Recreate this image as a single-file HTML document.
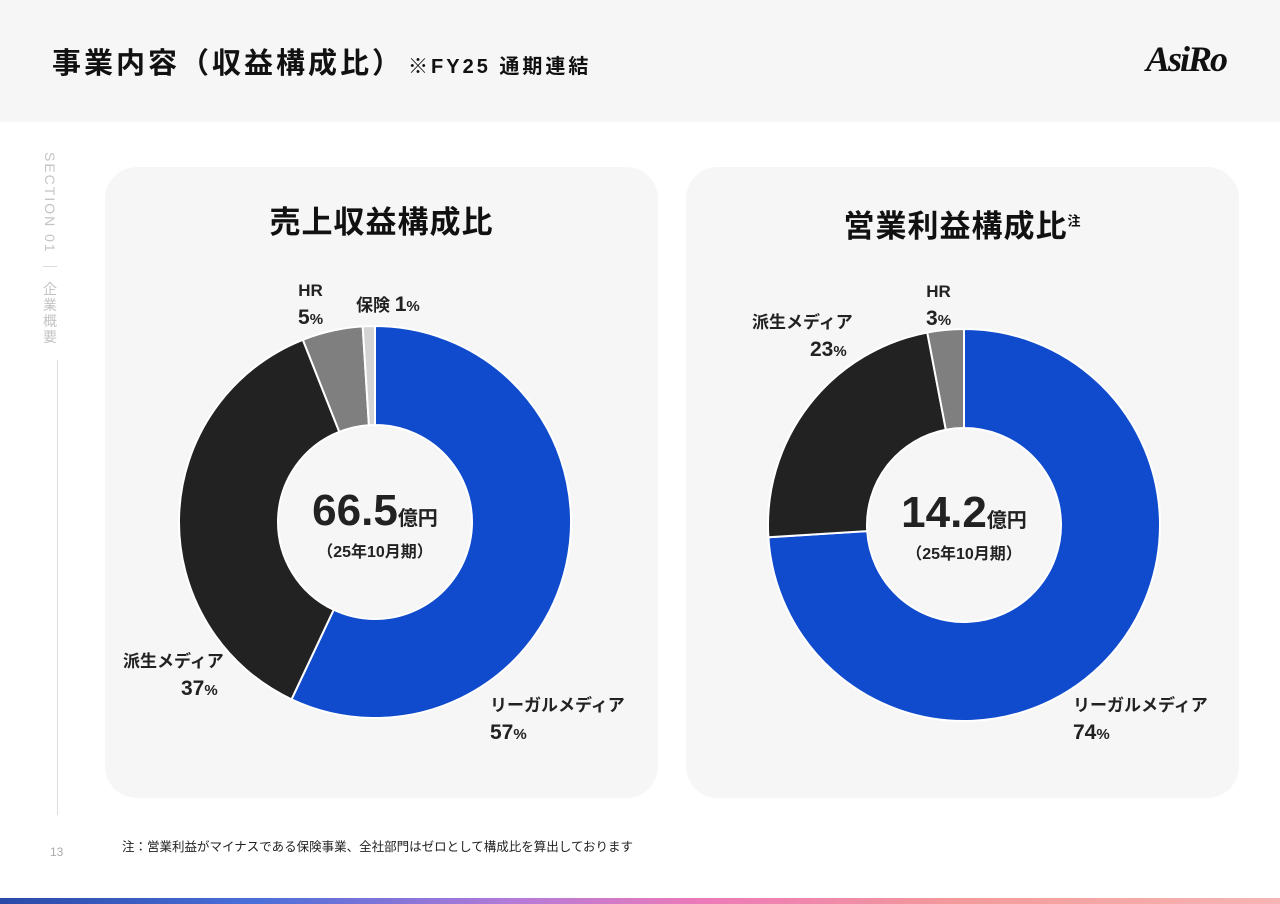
<!DOCTYPE html>
<html><head><meta charset="utf-8">
<style>
body{margin:0;width:1280px;height:904px;background:#fff;position:relative;overflow:hidden;font-family:"Liberation Sans","Noto Sans CJK JP",sans-serif;color:#222}
.hdr{position:absolute;left:0;top:0;width:1280px;height:122px;background:#f6f6f6}
.title{position:absolute;left:52px;top:40px;font-size:29px;font-weight:bold;color:#111;letter-spacing:3px;white-space:nowrap}
.title small{font-size:20px;letter-spacing:3px;margin-left:4px}
.logo{position:absolute;left:1146px;top:38px;font-size:36px;font-weight:bold;font-style:italic;color:#111;font-family:"Liberation Serif",serif;letter-spacing:-2px}
.side{position:absolute;left:40px;top:152px;writing-mode:vertical-rl;font-size:14px;color:#c4c4c4;letter-spacing:2px}
.sideline{position:absolute;left:57px;top:360px;width:1px;height:455px;background:#ddd}
.pg{position:absolute;left:50px;top:845px;font-size:12px;color:#aaa}
.card{position:absolute;top:167px;width:553px;height:631px;background:#f6f6f6;border-radius:32px}
.ct{position:absolute;width:553px;text-align:center;top:30px;font-size:31px;font-weight:bold;color:#111;letter-spacing:1px}
.ct sup{font-size:13px}
.lbl{position:absolute;font-weight:bold;font-size:17px;color:#222;white-space:nowrap;line-height:1.4}
.lbl b{font-size:21px}
.lbl i{font-style:normal;font-size:15px}
.c{text-align:center}
.big{position:absolute;width:300px;text-align:center;font-weight:bold}
.note{position:absolute;left:122px;top:836px;font-size:12.5px;color:#222}
.grad{position:absolute;left:0;top:898px;width:1280px;height:6px;background:linear-gradient(90deg,#2a4aa8,#4a6fd8 20%,#b47ad8 40%,#ec7ab8 55%,#f39a9a 75%,#f7b4b4)}
</style></head><body>
<div class="hdr"></div>
<div class="title">事業内容（収益構成比）<small>※FY25 通期連結</small></div>
<div class="logo">AsiRo</div>
<div class="side">SECTION 01 ｜ 企業概要</div>
<div class="sideline"></div>
<div class="pg">13</div>

<div class="card" style="left:105px">
 <div class="ct">売上収益構成比</div>
</div>
<div class="card" style="left:686px">
 <div class="ct" style="top:34px">営業利益構成比<sup>注</sup></div>
</div>

<svg id="chart" width="1280" height="904" style="position:absolute;left:0;top:0"></svg>

<div class="big" style="left:225px;top:486px"><span style="font-size:44px">66.5</span><span style="font-size:20px">億円</span><div style="font-size:16px;margin-top:2px">（25年10月期）</div></div>
<div class="big" style="left:814px;top:488px"><span style="font-size:44px">14.2</span><span style="font-size:20px">億円</span><div style="font-size:16px;margin-top:2px">（25年10月期）</div></div>

<div class="lbl c" style="left:298px;top:279px">HR<br><b>5</b><i>%</i></div>
<div class="lbl" style="left:356px;top:290px">保険 <b>1</b><i>%</i></div>
<div class="lbl" style="left:123px;top:650px">派生メディア<br><span style="margin-left:58px"><b>37</b><i>%</i></span></div>
<div class="lbl" style="left:490px;top:694px">リーガルメディア<br><b>57</b><i>%</i></div>

<div class="lbl c" style="left:926px;top:280px">HR<br><b>3</b><i>%</i></div>
<div class="lbl" style="left:752px;top:311px">派生メディア<br><span style="margin-left:58px"><b>23</b><i>%</i></span></div>
<div class="lbl" style="left:1073px;top:694px">リーガルメディア<br><b>74</b><i>%</i></div>

<div class="note">注：営業利益がマイナスである保険事業、全社部門はゼロとして構成比を算出しております</div>
<div class="grad"></div>

<script>
const revCategories=["リーガルメディア","派生メディア","HR","保険"];
const revValues=[57,37,5,1];
const profCategories=["リーガルメディア","派生メディア","HR"];
const profValues=[74,23,3];
const sliceColors=["#0f4bcc","#222222","#7f7f7f","#d4d4d4"];
const svg=document.getElementById('chart');
const NS='http://www.w3.org/2000/svg';
function pt(cx,cy,r,a){return [cx+r*Math.sin(a),cy-r*Math.cos(a)];}
function donut(cx,cy,ro,ri,vals,name){
 const tot=vals.reduce((a,b)=>a+b,0);let s=0;
 vals.forEach((v,i)=>{
  const a0=s/tot*2*Math.PI,a1=(s+v)/tot*2*Math.PI;s+=v;
  const L=(a1-a0)>Math.PI?1:0;
  const p0=pt(cx,cy,ro,a0),p1=pt(cx,cy,ro,a1),q1=pt(cx,cy,ri,a1),q0=pt(cx,cy,ri,a0);
  const p=document.createElementNS(NS,'path');
  p.setAttribute('d',`M${p0[0]},${p0[1]}A${ro},${ro} 0 ${L} 1 ${p1[0]},${p1[1]}L${q1[0]},${q1[1]}A${ri},${ri} 0 ${L} 0 ${q0[0]},${q0[1]}Z`);
  p.setAttribute('fill',sliceColors[i]);p.setAttribute('stroke','#fff');p.setAttribute('stroke-width','2');
  
  
  svg.appendChild(p);
 });
}
donut(375,522,196,97,revValues,'revenue');
donut(964,525,196,97,profValues,'profit');
</script>
</body></html>
